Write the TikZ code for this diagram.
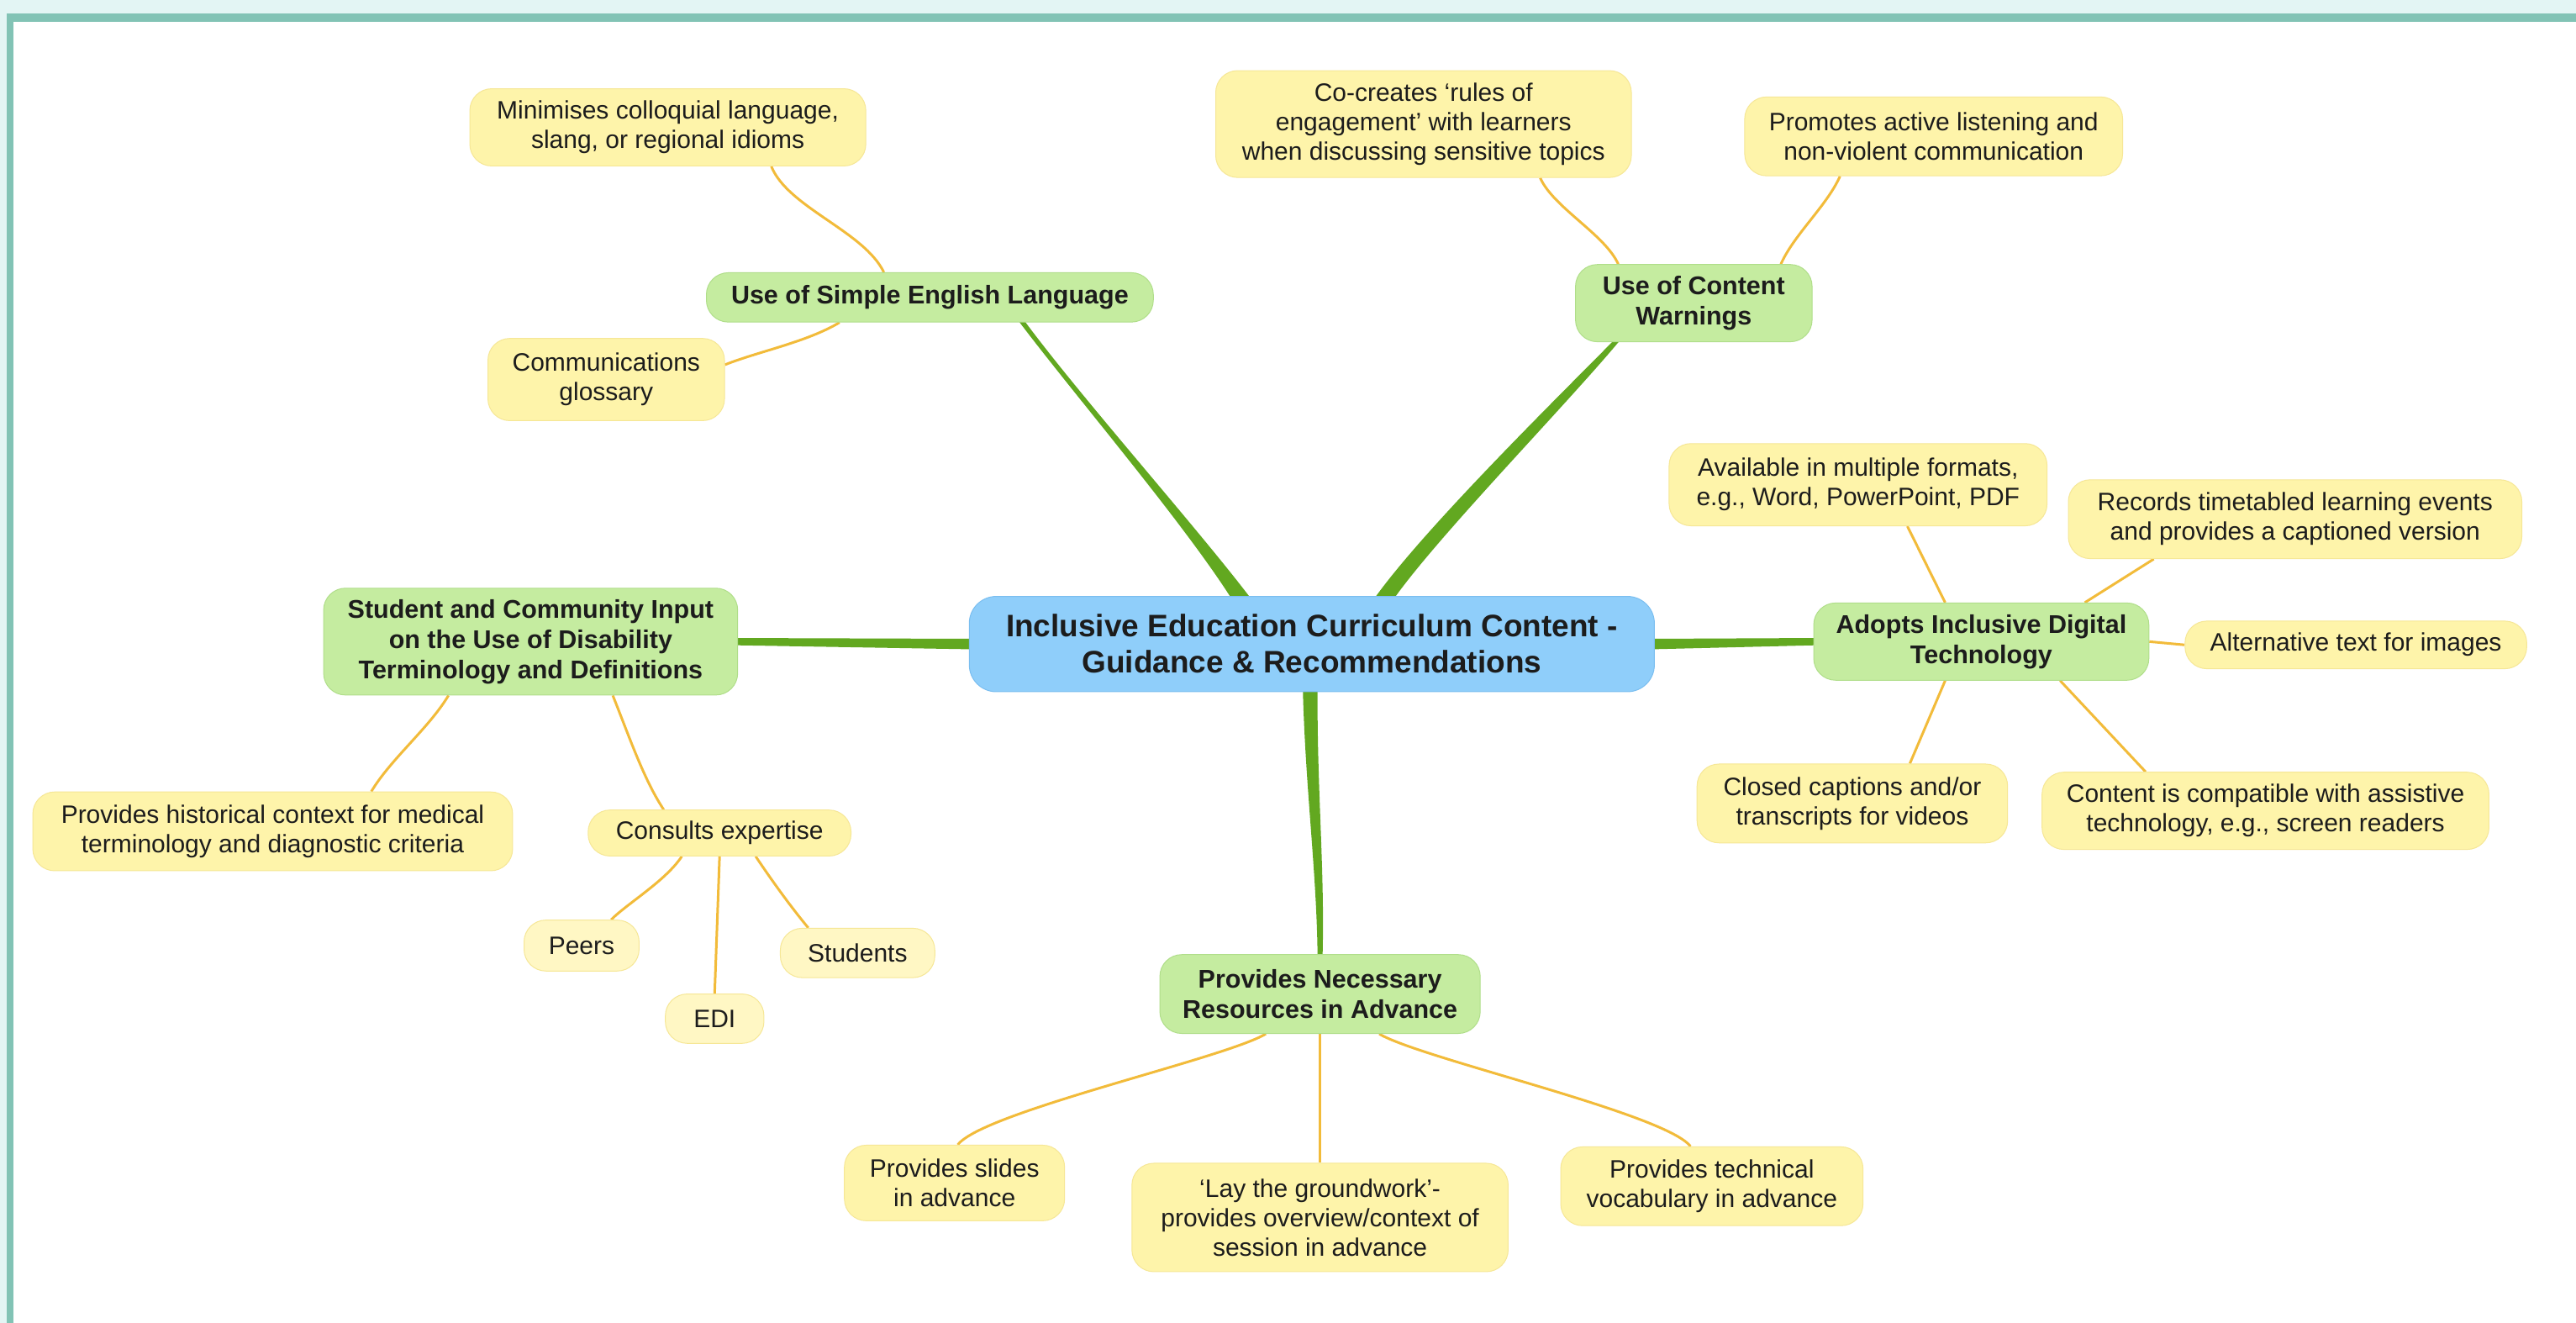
\documentclass[tikz,border=0pt]{standalone}
\usepackage{fontspec}
\setmainfont{Liberation Sans}
\usetikzlibrary{calc}
\definecolor{tealbg}{RGB}{227,245,244}
\definecolor{tealbd}{RGB}{130,195,181}
\definecolor{yelfill}{RGB}{254,244,170}
\definecolor{yelpale}{RGB}{255,247,196}
\definecolor{yeldraw}{RGB}{246,231,150}
\definecolor{grnfill}{RGB}{197,236,160}
\definecolor{grndraw}{RGB}{176,222,138}
\definecolor{blufill}{RGB}{143,206,250}
\definecolor{bludraw}{RGB}{122,190,240}
\definecolor{txt}{RGB}{28,28,28}
\definecolor{twig}{RGB}{242,187,58}
\definecolor{limb}{RGB}{98,168,32}
\pgfdeclarelayer{bgl}\pgfdeclarelayer{edg}\pgfsetlayers{bgl,edg,main}
\tikzset{
 nodebase/.style={rounded corners=26pt, inner sep=0pt, align=center, text=txt, line width=1pt},
 yel/.style={nodebase, fill=yelfill, draw=yeldraw, font=\fontsize{30}{35}\selectfont},
 pale/.style={yel, fill=yelpale},
 grn/.style={nodebase, fill=grnfill, draw=grndraw, font=\bfseries\fontsize{30.5}{36}\selectfont},
 hub/.style={nodebase, rounded corners=32pt, fill=blufill, draw=bludraw, font=\bfseries\fontsize{37}{43}\selectfont},
 twigline/.style={draw=twig, line width=3pt},
 limbfill/.style={fill=limb},
}
\begin{document}
\begin{tikzpicture}[x=1.955pt,y=-1.955pt]
\useasboundingbox (0,0) rectangle (1568,805);
\begin{pgfonlayer}{bgl}
\fill[white] (0,0) rectangle (1568,805);
\fill[tealbg] (0,0) rectangle (1568,8.2);
\fill[tealbg] (0,0) rectangle (4.1,805);
\fill[tealbd] (4.1,8.2) rectangle (1568,13.3);
\fill[tealbd] (4.1,8.2) rectangle (8.2,805);
\end{pgfonlayer}

\node[hub, minimum width=815.2pt, minimum height=113.4pt] (hub) at (798.5,392) {Inclusive Education Curriculum Content -\\Guidance \& Recommendations};
\node[grn, minimum width=531.8pt, minimum height=58.7pt] (se) at (566,181) {Use of Simple English Language};
\node[yel, minimum width=471.2pt, minimum height=91.9pt] (mini) at (406.5,77.5) {Minimises colloquial language,\\slang, or regional idioms};
\node[yel, minimum width=281.5pt, minimum height=97.8pt] (glos) at (369,231) {Communications\\glossary};
\node[grn, minimum width=281.5pt, minimum height=91.9pt] (cw) at (1031,184.5) {Use of Content\\Warnings};
\node[yel, minimum width=494.6pt, minimum height=127.1pt] (cocr) at (866.5,75.5) {Co-creates ‘rules of\\engagement’ with learners\\when discussing sensitive topics};
\node[yel, minimum width=449.7pt, minimum height=93.8pt] (prom) at (1177,83) {Promotes active listening and\\non-violent communication};
\node[grn, minimum width=492.7pt, minimum height=127.1pt] (sci) at (323,390.5) {Student and Community Input\\on the Use of Disability\\Terminology and Definitions};
\node[yel, minimum width=570.9pt, minimum height=93.8pt] (hist) at (166,506) {Provides historical context for medical\\terminology and diagnostic criteria};
\node[yel, minimum width=312.8pt, minimum height=54.7pt] (cons) at (438,507) {Consults expertise};
\node[pale, minimum width=136.9pt, minimum height=60.6pt] (peers) at (354,575.5) {Peers};
\node[pale, minimum width=117.3pt, minimum height=58.7pt] (edi) at (435,620) {EDI};
\node[pale, minimum width=183.8pt, minimum height=58.7pt] (stud) at (522,580) {Students};
\node[grn, minimum width=398.8pt, minimum height=91.9pt] (aid) at (1206,390.5) {Adopts Inclusive Digital\\Technology};
\node[yel, minimum width=449.7pt, minimum height=97.8pt] (avail) at (1131,295) {Available in multiple formats,\\e.g., Word, PowerPoint, PDF};
\node[yel, minimum width=539.6pt, minimum height=93.8pt] (rec) at (1397,316) {Records timetabled learning events\\and provides a captioned version};
\node[yel, minimum width=406.6pt, minimum height=56.7pt] (alt) at (1434,392.5) {Alternative text for images};
\node[yel, minimum width=369.5pt, minimum height=93.8pt] (closed) at (1127.5,489) {Closed captions and/or\\transcripts for videos};
\node[yel, minimum width=531.8pt, minimum height=91.9pt] (compat) at (1379,493.5) {Content is compatible with assistive\\technology, e.g., screen readers};
\node[grn, minimum width=381.2pt, minimum height=93.8pt] (pnr) at (803.5,605) {Provides Necessary\\Resources in Advance};
\node[yel, minimum width=262.0pt, minimum height=89.9pt] (slides) at (581,720) {Provides slides\\in advance};
\node[yel, minimum width=447.7pt, minimum height=129.0pt] (lay) at (803.5,741) {‘Lay the groundwork’-\\provides overview/context of\\session in advance};
\node[yel, minimum width=359.7pt, minimum height=93.8pt] (tech) at (1042,722) {Provides technical\\vocabulary in advance};

\begin{pgfonlayer}{edg}
% green limbs (tapered)
\fill[limbfill] ($(hub.north)+(-48,3)$) .. controls (720.5,318) and (652,238) .. ($(se.south)+(53.2,-2)$)
  -- ($(se.south)+(56.8,-2)$) .. controls (658,242) and (729.5,322) .. ($(hub.north)+(-36,3)$) -- cycle;
\fill[limbfill] ($(hub.north)+(37,3)$) .. controls (865.5,323) and (947,243) .. ($(cw.south)+(-47.8,-2)$)
  -- ($(cw.south)+(-44.2,-2)$) .. controls (953,247) and (874.5,327) .. ($(hub.north)+(49,3)$) -- cycle;
\fill[limbfill] ($(hub.west)+(3,-3.2)$) -- ($(sci.east)+(-2,-2.2)$) -- ($(sci.east)+(-2,2.2)$) -- ($(hub.west)+(3,3.2)$) -- cycle;
\fill[limbfill] ($(hub.east)+(-3,-3.2)$) -- ($(aid.west)+(2,-2.2)$) -- ($(aid.west)+(2,2.2)$) -- ($(hub.east)+(-3,3.2)$) -- cycle;
\fill[limbfill] ($(hub.south)+(-5.5,-3)$) .. controls (794.5,480) and (801.5,530) .. ($(pnr.north)+(-1.5,2)$)
  -- ($(pnr.north)+(1.5,2)$) .. controls (806.5,530) and (801.5,480) .. ($(hub.south)+(3.5,-3)$) -- cycle;
% yellow twigs
\draw[twigline] ($(se.north)+(-28,0)$) .. controls +(-12,-25) and +(10,25) .. ($(mini.south)+(63,0)$);
\draw[twigline] ($(se.south)+(-55,0)$) .. controls +(-20,12) and +(20,-8) .. ($(glos.east)+(0,-9)$);
\draw[twigline] ($(cw.north)+(-46,0)$) .. controls +(-8,-18) and +(8,18) .. ($(cocr.south)+(71,0)$);
\draw[twigline] ($(cw.north)+(53,0)$) .. controls +(8,-18) and +(-8,18) .. ($(prom.south)+(-57,0)$);
\draw[twigline] ($(sci.south)+(-50,0)$) .. controls +(-12,20) and +(12,-20) .. ($(hist.north)+(60,0)$);
\draw[twigline] ($(sci.south)+(50,0)$) .. controls +(10,25) and +(-12,-18) .. ($(cons.north)+(-34,0)$);
\draw[twigline] ($(cons.south)+(-23,0)$) .. controls +(-10,15) and +(10,-10) .. ($(peers.north)+(18,0)$);
\draw[twigline] (cons.south) -- (edi.north);
\draw[twigline] ($(cons.south)+(22,0)$) .. controls +(10,15) and +(-10,-12) .. ($(stud.north)+(-30,0)$);
\draw[twigline] ($(aid.north)+(-22,0)$) -- ($(avail.south)+(30,0)$);
\draw[twigline] ($(aid.north)+(63,0)$) -- ($(rec.south)+(-86,0)$);
\draw[twigline] (aid.east) -- (alt.west);
\draw[twigline] ($(aid.south)+(-22,0)$) -- ($(closed.north)+(35,0)$);
\draw[twigline] ($(aid.south)+(48,0)$) -- ($(compat.north)+(-73,0)$);
\draw[twigline] ($(pnr.south)+(-33,0)$) .. controls +(-25,15) and +(15,-20) .. ($(slides.north)+(2,0)$);
\draw[twigline] (pnr.south) -- (lay.north);
\draw[twigline] ($(pnr.south)+(36,0)$) .. controls +(25,15) and +(-15,-20) .. ($(tech.north)+(-13,0)$);
\end{pgfonlayer}
\end{tikzpicture}
\end{document}
